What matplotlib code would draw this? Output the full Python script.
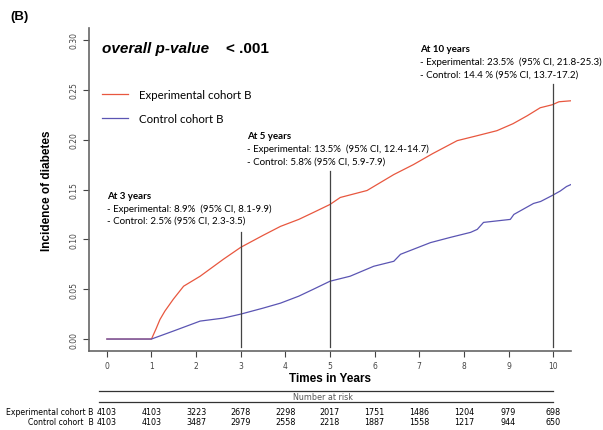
import matplotlib
matplotlib.use("Agg")
import matplotlib.pyplot as plt

# cumulative incidence
t_exp = [0, 1.0, 1.1, 1.19, 1.3, 1.49, 1.72, 2.09, 2.61, 3.0, 3.5, 3.89, 4.3, 4.63,
         5.0, 5.23, 5.83, 6.43, 6.87, 7.3, 7.85, 8.3, 8.74, 9.1, 9.42, 9.71, 9.98, 10.13, 10.4]
y_exp = [0, 0, 0.010, 0.0196, 0.028, 0.040, 0.053, 0.063, 0.080, 0.092, 0.104, 0.113, 0.120, 0.127,
         0.135, 0.142, 0.149, 0.165, 0.175, 0.186, 0.199, 0.204, 0.209, 0.216, 0.224, 0.232, 0.235, 0.238, 0.239]

t_ctl = [0, 1.0, 1.49, 2.09, 2.61, 3.0, 3.5, 3.89, 4.3, 4.63, 5.0, 5.45, 5.98, 6.43,
         6.58, 7.25, 7.7, 8.15, 8.3, 8.44, 9.04, 9.12, 9.56, 9.72, 9.98, 10.16, 10.3, 10.4]
y_ctl = [0, 0, 0.008, 0.018, 0.021, 0.025, 0.031, 0.036, 0.043, 0.050, 0.058, 0.063, 0.073, 0.078,
         0.085, 0.0967, 0.102, 0.107, 0.110, 0.117, 0.120, 0.125, 0.136, 0.138, 0.144, 0.1485, 0.153, 0.155]

risk_times = list(range(11))
risk_exp = [4103, 4103, 3223, 2678, 2298, 2017, 1751, 1486, 1204, 979, 698]
risk_ctl = [4103, 4103, 3487, 2979, 2558, 2218, 1887, 1558, 1217, 944, 650]

# marker lines: (time, top of line)
marks = [(3, 0.107), (5, 0.169), (10, 0.256)]
notes = [
    (0.0, 0.144, "At 3 years", ["- Experimental: 8.9%  (95% CI, 8.1-9.9)",
                                "- Control: 2.5% (95% CI, 2.3-3.5)"]),
    (3.14, 0.204, "At 5 years", ["- Experimental: 13.5%  (95% CI, 12.4-14.7)",
                                 "- Control: 5.8% (95% CI, 5.9-7.9)"]),
    (7.01, 0.291, "At 10 years", ["- Experimental: 23.5%  (95% CI, 21.8-25.3)",
                                  "- Control: 14.4 % (95% CI, 13.7-17.2)"]),
]

RED = "#e8573f"
BLUE = "#5b55b3"
TXT = "Lato"

fig = plt.figure(figsize=(6.03, 4.31), dpi=100)
ax = fig.add_axes([89 / 603, 1 - 352 / 431, (571 - 89) / 603, (352 - 29) / 431])

ax.plot(t_exp, y_exp, color=RED, lw=0.9)
ax.plot(t_ctl, y_ctl, color=BLUE, lw=0.9)

for t, top in marks:
    ax.plot([t, t], [-0.008, top], color="#444444", lw=0.9)

for x, y, head, lines in notes:
    ax.text(x, y, head, fontsize=7.0, fontweight="bold", family=TXT, va="center")
    for i, s in enumerate(lines):
        ax.text(x, y - 0.0125 * (i + 1), s, fontsize=7.0, family=TXT, va="center")

ax.text(-0.1, 0.292, "overall p-value", fontsize=11, fontweight="bold", style="italic",
        family="Liberation Sans", va="center")
ax.text(2.66, 0.292, "< .001", fontsize=11, fontweight="bold",
        family="Liberation Sans", va="center")

# legend drawn by hand like the original
ax.plot([-0.11, 0.47], [0.2455, 0.2455], color=RED, lw=0.9)
ax.plot([-0.11, 0.47], [0.2215, 0.2215], color=BLUE, lw=0.9)
ax.text(0.73, 0.2455, "Experimental cohort B", fontsize=8.3, family=TXT, va="center")
ax.text(0.73, 0.2215, "Control cohort B", fontsize=8.3, family=TXT, va="center")

ax.set_xlim(-0.4, 10.4)
ax.set_ylim(-0.012, 0.312)
ax.set_xticks(risk_times)
ax.set_yticks([0, 0.05, 0.10, 0.15, 0.20, 0.25, 0.30])
ax.set_yticklabels(["0.00", "0.05", "0.10", "0.15", "0.20", "0.25", "0.30"],
                   rotation=90, va="center")
ax.tick_params(labelsize=5.5, colors="#444444", length=4, width=0.8)
ax.tick_params(axis="x", pad=3)
for side in ["top", "right"]:
    ax.spines[side].set_visible(False)
for side in ["left", "bottom"]:
    ax.spines[side].set_color("#666666")
    ax.spines[side].set_linewidth(1.2)

ax.set_xlabel("Times in Years", fontsize=8.5, fontweight="bold", family="Liberation Sans", labelpad=2)
ax.set_ylabel("Incidence of diabetes", fontsize=8.5, fontweight="bold", family="Liberation Sans", labelpad=12)

fig.text(10 / 603, 1 - 17 / 431, "(B)", fontsize=9.5, fontweight="bold",
         family="Liberation Sans", va="center")

# number at risk table
tab = fig.add_axes([89 / 603, 0, (571 - 89) / 603, (431 - 385) / 431])
tab.set_xlim(-0.4, 10.4)
tab.set_ylim(431, 385)
tab.axis("off")
tab.plot([-0.17, 10.0], [391.7, 391.7], color="#333333", lw=0.9)
tab.plot([-0.17, 10.0], [402.7, 402.7], color="#333333", lw=0.9)
tab.text(4.85, 397.2, "Number at risk", fontsize=5.8, color="#555555", ha="center", va="center")
tab.text(-0.3, 413, "Experimental cohort B", fontsize=5.6, ha="right", va="center", clip_on=False)
tab.text(-0.3, 423, "Control cohort  B", fontsize=5.6, ha="right", va="center", clip_on=False)
for t, a, b in zip(risk_times, risk_exp, risk_ctl):
    tab.text(t, 413, str(a), fontsize=5.8, ha="center", va="center")
    tab.text(t, 423, str(b), fontsize=5.8, ha="center", va="center")

fig.savefig("out.png", dpi=100)
